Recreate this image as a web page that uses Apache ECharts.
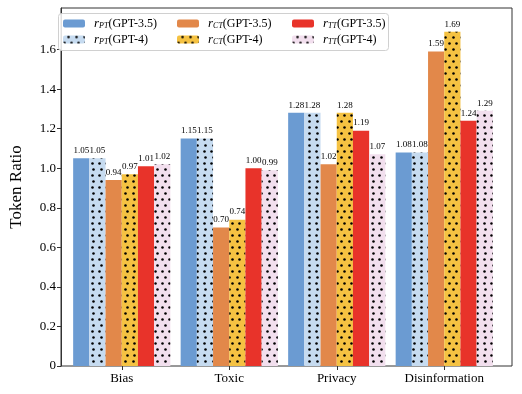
<!DOCTYPE html>
<html>
<head>
<meta charset="utf-8">
<script src="https://cdn.jsdelivr.net/npm/echarts@6/dist/echarts.min.js"></script>
<style>
  html, body { margin: 0; padding: 0; background: #fff; }
  #chart { width: 522px; height: 394px; }
</style>
</head>
<body>
<div id="chart"></div>
<script>
const categories = ['Bias', 'Toxic', 'Privacy', 'Disinformation'];
const seriesNames = ['PT|GPT-3.5', 'PT|GPT-4', 'CT|GPT-3.5', 'CT|GPT-4', 'TT|GPT-3.5', 'TT|GPT-4'];
const ptGpt35 = [1.05, 1.15, 1.28, 1.08];
const ptGpt4 = [1.05, 1.15, 1.28, 1.08];
const ctGpt35 = [0.94, 0.70, 1.02, 1.59];
const ctGpt4 = [0.97, 0.74, 1.28, 1.69];
const ttGpt35 = [1.01, 1.00, 1.19, 1.24];
const ttGpt4 = [1.02, 0.99, 1.07, 1.29];
const yTicks = [0, 0.2, 0.4, 0.6, 0.8, 1.0, 1.2, 1.4, 1.6];

const allValues = [ptGpt35, ptGpt4, ctGpt35, ctGpt4, ttGpt35, ttGpt4];
const colors = ['#6b9bd2', '#c6dbf0', '#e2884a', '#f5c242', '#e8332a', '#f2dfee'];
const dotted = [false, true, false, true, false, true];

const serif = 'Liberation Serif';
const yMax = 1.81;
const chart = echarts.init(document.getElementById('chart'), null, { renderer: 'canvas' });

// 点状填充（交错排列）
const dotDecal = {
  symbol: 'circle',
  symbolSize: 0.85,
  color: '#000',
  dashArrayX: [[3, 4], [0, 3.5, 3, 0.5]],
  dashArrayY: [3, 3],
  rotation: 0
};

const series = seriesNames.map((name, i) => ({
  name: name,
  type: 'bar',
  xAxisIndex: 1,
  yAxisIndex: 1,
  data: allValues[i],
  barWidth: 16.2,
  barGap: '0%',
  itemStyle: {
    color: colors[i],
    decal: dotted[i] ? dotDecal : null
  },
  label: {
    show: true,
    position: 'top',
    distance: 3,
    fontFamily: serif,
    fontSize: 9,
    color: '#000',
    formatter: p => p.value.toFixed(2)
  }
}));

// 图例：每列一个（两行），外面套一个框
const legendCol = (left, names) => ({
  left: left,
  top: 17,
  z: 10,
  orient: 'vertical',
  padding: 0,
  itemGap: 3,
  itemWidth: 22,
  itemHeight: 8,
  data: names,
  formatter: name => {
    const parts = name.split('|');
    return '{r|r}{s|' + parts[0] + '}{t|(' + parts[1] + ')}';
  },
  textStyle: {
    fontFamily: serif,
    fontSize: 12,
    color: '#000',
    rich: {
      r: { fontFamily: serif, fontStyle: 'italic', fontSize: 13, color: '#000', padding: [0, 0, 0, 4] },
      s: { fontFamily: serif, fontStyle: 'italic', fontSize: 8, color: '#000', padding: [5, 0, 0, 0] },
      t: { fontFamily: serif, fontSize: 12, color: '#000' }
    }
  }
});

const option = {
  animation: false,
  backgroundColor: '#fff',
  grid: [
    // 外框 + y轴
    { left: 53, right: 10, top: 8, bottom: 28, show: true, borderColor: '#333', borderWidth: 1 },
    // 柱子所在区域（两侧留白）
    { left: 68, right: 24, top: 8, bottom: 28 }
  ],
  graphic: [{
    type: 'rect',
    left: 58,
    top: 13,
    z: 5,
    shape: { width: 330, height: 37, r: 3 },
    style: { fill: 'rgba(255,255,255,0.85)', stroke: '#d0d0d0', lineWidth: 1 }
  }],
  legend: [
    legendCol(63, ['PT|GPT-3.5', 'PT|GPT-4']),
    legendCol(177, ['CT|GPT-3.5', 'CT|GPT-4']),
    legendCol(292, ['TT|GPT-3.5', 'TT|GPT-4'])
  ],
  xAxis: [
    { gridIndex: 0, type: 'value', show: false },
    {
      gridIndex: 1,
      type: 'category',
      data: categories,
      axisLine: { show: false },
      axisTick: { show: true, alignWithLabel: true, length: 4, lineStyle: { color: '#333' } },
      axisLabel: { fontFamily: serif, fontSize: 13, color: '#000', margin: 6 }
    }
  ],
  yAxis: [
    {
      gridIndex: 0,
      type: 'value',
      min: 0,
      max: yMax,
      name: 'Token Ratio',
      nameLocation: 'middle',
      nameGap: 36,
      nameTextStyle: { fontFamily: serif, fontSize: 17, color: '#000' },
      splitLine: { show: false },
      axisLine: { show: true, lineStyle: { color: '#333' } },
      axisTick: { show: true, length: 4, customValues: yTicks, lineStyle: { color: '#333' } },
      axisLabel: {
        fontFamily: serif,
        fontSize: 13,
        color: '#000',
        margin: 5,
        customValues: yTicks,
        formatter: v => (v === 0 ? '0' : v.toFixed(1))
      }
    },
    { gridIndex: 1, type: 'value', min: 0, max: yMax, show: false, splitLine: { show: false } }
  ],
  series: series
};

chart.setOption(option);
</script>
</body>
</html>
